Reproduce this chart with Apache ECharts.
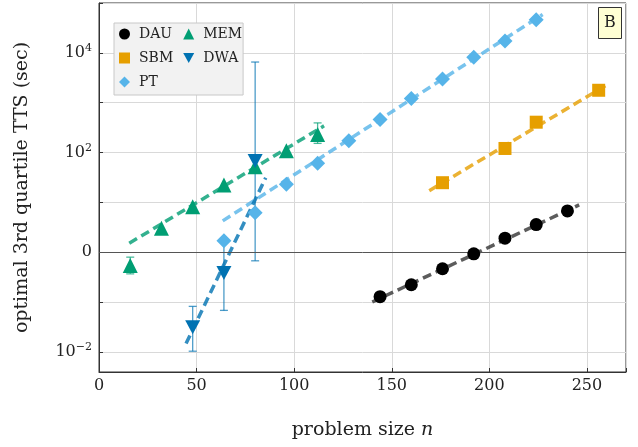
<!DOCTYPE html>
<html>
<head>
<meta charset="utf-8">
<script src="https://cdn.jsdelivr.net/npm/echarts@6/dist/echarts.min.js"></script>
<style>
  html, body { margin: 0; padding: 0; background: #fff; }
  #chart { width: 638px; height: 447px; }
</style>
</head>
<body>
<div id="chart"></div>
<script>
// values
const nDAU = [144, 160, 176, 192, 208, 224, 240]
const ttsDAU = [0.129, 0.224, 0.468, 0.933, 1.92, 3.6, 6.76]
const nSBM = [176, 208, 224, 256]
const ttsSBM = [24.9, 121, 407, 1778]
const nPT = [64, 80, 96, 112, 128, 144, 160, 176, 192, 208, 224]
const ttsPT = [1.70, 6.25, 23.1, 60.8, 172, 461, 1213, 2992, 8128, 17219, 46132]
const nMEM = [16, 32, 48, 64, 80, 96, 112]
const ttsMEM = [0.545, 3.05, 8.24, 22.4, 52, 108.7, 231]
const nDWA = [48, 64, 80]
const ttsDWA = [0.0313, 0.384, 67.6]

// error bars (low / high)
const errMEMn = [16, 112]
const errMEMlo = [0.37, 153]
const errMEMhi = [0.80, 394]
const errDWAn = [48, 64, 80]
const errDWAlo = [0.0104, 0.0685, 0.676]
const errDWAhi = [0.0824, 1.58, 6546]

// fitted lines, start and end
const fitDAUn = [140, 246]
const fitDAU = [0.101, 8.91]
const fitSBMn = [169.2, 260.4]
const fitSBM = [17.2, 2307]
const fitPTn = [63.4, 227.3]
const fitPT = [4.27, 58884]
const fitMEMn = [15.5, 115.3]
const fitMEM = [1.52, 343.6]
const fitDWAn = [44.6, 85.4]
const fitDWA = [0.0148, 31.3]

const yLabelValues = [0.01, 1, 100, 10000]
const xTicks = [0, 50, 100, 150, 200, 250]

const FONT = 'DejaVu Serif'
const zip = (xs, ys) => xs.map((x, i) => [x, ys[i]])

const colors = {
  DAU: '#000000',
  SBM: '#E69F00',
  PT: '#56B4E9',
  MEM: '#009E73',
  DWA: '#0072B2'
}

const points = (name, xs, ys, symbol, size) => ({
  name,
  type: 'scatter',
  data: zip(xs, ys),
  symbol,
  symbolSize: size,
  itemStyle: { color: colors[name], opacity: 1 },
  z: 5
})

const fit = (name, xs, ys, color) => ({
  name: name + ' fit',
  type: 'line',
  data: zip(xs, ys),
  showSymbol: false,
  symbol: 'none',
  lineStyle: { color: color || colors[name], width: 3.5, type: [9, 5], opacity: 0.8 },
  z: 3
})

const errBars = (name, xs, lo, hi) => ({
  name: name + ' err',
  type: 'custom',
  data: xs.map((x, i) => [x, lo[i], hi[i]]),
  encode: { x: 0, y: [1, 2] },
  z: 4,
  renderItem: (params, api) => {
    const a = api.coord([api.value(0), api.value(1)])
    const b = api.coord([api.value(0), api.value(2)])
    const style = { stroke: colors[name], lineWidth: 1.3, opacity: 0.7 }
    return {
      type: 'group',
      children: [
        { type: 'line', shape: { x1: a[0], y1: a[1], x2: b[0], y2: b[1] }, style },
        { type: 'line', shape: { x1: a[0] - 4, y1: a[1], x2: a[0] + 4, y2: a[1] }, style },
        { type: 'line', shape: { x1: b[0] - 4, y1: b[1], x2: b[0] + 4, y2: b[1] }, style }
      ]
    }
  }
})

const downTri = 'path://M0,0L10,0L5,9Z'

const chart = echarts.init(document.getElementById('chart'))

const dauFit = fit('DAU', fitDAUn, fitDAU, '#333333')
dauFit.markLine = {
  silent: true,
  symbol: 'none',
  label: { show: false },
  lineStyle: { color: '#555', width: 1, type: 'solid' },
  data: [{ yAxis: 1 }]
}

chart.setOption({
  animation: false,
  textStyle: { fontFamily: FONT },
  grid: {
    left: 99, right: 12, top: 3, bottom: 75,
    show: true, borderColor: '#333', borderWidth: 1
  },
  legend: {
    data: ['DAU', 'SBM', 'PT', 'MEM', 'DWA'],
    orient: 'vertical',
    left: 114,
    top: 23,
    height: 64,
    itemWidth: 11,
    itemHeight: 11,
    itemGap: 10,
    padding: [4, 1, 6, 5],
    backgroundColor: '#f2f2f2',
    borderColor: '#c8c8c8',
    borderWidth: 1,
    borderRadius: 0,
    textStyle: { fontFamily: FONT, fontSize: 14, color: '#222', padding: [0, 2, 0, 4] }
  },
  xAxis: {
    type: 'value',
    min: 0,
    max: 270,
    interval: 50,
    name: 'problem size {i|n}',
    nameLocation: 'middle',
    nameGap: 49,
    nameTextStyle: {
      fontFamily: FONT, fontSize: 19, color: '#222',
      rich: { i: { fontFamily: FONT, fontStyle: 'italic', fontSize: 19, color: '#222' } }
    },
    axisLine: { lineStyle: { color: '#333', width: 1 } },
    axisTick: { inside: true, length: 4, lineStyle: { color: '#333' } },
    axisLabel: {
      fontFamily: FONT, fontSize: 16, color: '#222', margin: 6,
      formatter: v => (xTicks.includes(v) ? String(v) : '')
    },
    splitLine: { show: true, lineStyle: { color: '#d9d9d9', width: 1 } }
  },
  yAxis: {
    type: 'log',
    logBase: 10,
    min: Math.pow(10, -2.4),
    max: 1e5,
    name: 'optimal 3rd quartile TTS (sec)',
    nameLocation: 'middle',
    nameGap: 67,
    nameTextStyle: { fontFamily: FONT, fontSize: 19, color: '#222' },
    axisLine: { lineStyle: { color: '#333', width: 1 } },
    axisTick: { inside: true, length: 4, lineStyle: { color: '#333' } },
    axisLabel: {
      margin: 7,
      color: '#222',
      formatter: v => {
        const hit = yLabelValues.find(t => Math.abs(Math.log10(v) - Math.log10(t)) < 1e-6)
        if (hit === undefined) return ''
        const e = Math.round(Math.log10(hit))
        if (e === 0) return '{b|0}'
        return '{b|10}{s|' + (e < 0 ? '\u2212' + (-e) : e) + '}'
      },
      rich: {
        b: { fontFamily: FONT, fontSize: 16, color: '#222' },
        s: { fontFamily: FONT, fontSize: 11, color: '#222', padding: [0, 0, 9, 0] }
      }
    },
    splitLine: { show: true, lineStyle: { color: '#d9d9d9', width: 1 } }
  },
  graphic: [
    {
      type: 'group',
      left: 598,
      top: 7,
      children: [
        { type: 'rect', shape: { x: 0, y: 0, width: 23, height: 31 }, style: { fill: '#ffffd4', stroke: '#333', lineWidth: 1 } },
        { type: 'text', x: 11.5, y: 15.5, style: { text: 'B', font: '16px "DejaVu Serif"', fill: '#222', align: 'center', verticalAlign: 'middle' } }
      ]
    }
  ],
  series: [
    dauFit,
    fit('SBM', fitSBMn, fitSBM),
    fit('PT', fitPTn, fitPT),
    fit('MEM', fitMEMn, fitMEM),
    fit('DWA', fitDWAn, fitDWA),
    errBars('MEM', errMEMn, errMEMlo, errMEMhi),
    errBars('DWA', errDWAn, errDWAlo, errDWAhi),
    points('DAU', nDAU, ttsDAU, 'circle', 13),
    points('SBM', nSBM, ttsSBM, 'rect', 13),
    points('PT', nPT, ttsPT, 'diamond', 15),
    points('MEM', nMEM, ttsMEM, 'triangle', 15),
    points('DWA', nDWA, ttsDWA, downTri, [15, 14])
  ]
})
</script>
</body>
</html>
